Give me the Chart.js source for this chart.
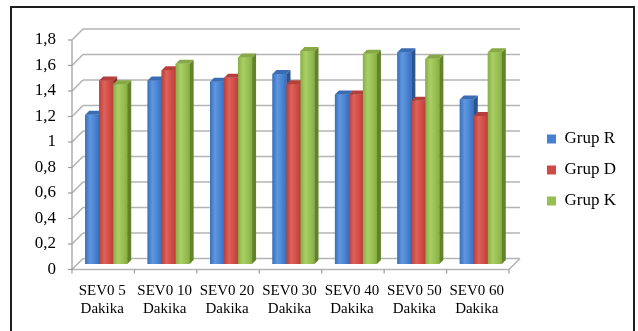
<!DOCTYPE html>
<html>
<head>
<meta charset="utf-8">
<script src="https://cdn.jsdelivr.net/npm/chart.js@4.4.1/dist/chart.umd.min.js"></script>
<style>
  html, body { margin: 0; padding: 0; background: #fff; }
  #wrap { width: 638px; height: 331px; }
  canvas { display: block; }
</style>
</head>
<body>
<div id="wrap"><canvas id="chart" width="638" height="331"></canvas></div>
<script>
// Category labels (two lines each)
const CATEGORIES = [
  ['SEV0 5', 'Dakika'],
  ['SEV0 10', 'Dakika'],
  ['SEV0 20', 'Dakika'],
  ['SEV0 30', 'Dakika'],
  ['SEV0 40', 'Dakika'],
  ['SEV0 50', 'Dakika'],
  ['SEV0 60', 'Dakika']
];

// Series names and values
const SERIES_NAMES = ['Grup R', 'Grup D', 'Grup K'];
const GRUP_R = [1.17, 1.44, 1.43, 1.49, 1.33, 1.66, 1.29];
const GRUP_D = [1.44, 1.52, 1.46, 1.41, 1.33, 1.28, 1.16];
const GRUP_K = [1.41, 1.57, 1.62, 1.67, 1.65, 1.61, 1.66];

// Value axis
const Y_MIN = 0;
const Y_MAX = 1.8;
const Y_STEP = 0.2;
const Y_TICK_LABELS = ['0', '0,2', '0,4', '0,6', '0,8', '1', '1,2', '1,4', '1,6', '1,8'];

// Colour sets for the 3D columns: front (base / highlight), side, top
const PALETTE = [
  { base: '#4780cf', light: '#5f98e0', dark: '#3a6eb9', side: '#2b548f', cap: '#3a6cb3' },
  { base: '#cf4a44', light: '#de625b', dark: '#bb3f3a', side: '#8a2b28', cap: '#b5403b' },
  { base: '#96be50', light: '#aacf66', dark: '#87ae45', side: '#63832b', cap: '#86a946' }
];

// Pseudo-3D geometry (pixels)
const FRONT = { dx: -3, dy: 5.5 };   // front edge of the floor / side wall
const BACK = { dx: 8, dy: -5.5 };    // back wall
const DEPTH = 4;                     // column depth
const PLOT_RIGHT = 512;
const LEGEND_BOX = { left: 533, top: 34.5, bottom: 305.5 };

const SERIF = "'Liberation Serif', 'DejaVu Serif', serif";
Chart.defaults.font.family = SERIF;
Chart.defaults.color = '#000';

function line(ctx, x1, y1, x2, y2) {
  ctx.beginPath();
  ctx.moveTo(x1, y1);
  ctx.lineTo(x2, y2);
  ctx.stroke();
}

const threeD = {
  id: 'threeD',
  afterLayout(chart) {
    const xs = chart.scales.x;
    xs.right = PLOT_RIGHT;
    xs.width = xs.right - xs.left;
    xs.configure();
    chart.chartArea.right = PLOT_RIGHT;
    chart.chartArea.width = PLOT_RIGHT - chart.chartArea.left;
    const lg = chart.legend;
    if (lg) {
      const w = lg.width;
      lg.left = LEGEND_BOX.left;
      lg.right = LEGEND_BOX.left + w;
      lg.top = LEGEND_BOX.top;
      lg.bottom = LEGEND_BOX.bottom;
      lg.height = LEGEND_BOX.bottom - LEGEND_BOX.top;
    }
  },
  beforeDraw(chart) {
    const ctx = chart.ctx;
    ctx.save();
    ctx.fillStyle = '#fff';
    ctx.fillRect(0, 0, chart.width, chart.height);
    ctx.strokeStyle = '#1e1e1e';
    ctx.lineWidth = 2;
    ctx.strokeRect(11, 7, 623, 340);
    ctx.restore();
  },
  beforeDatasetsDraw(chart) {
    const ctx = chart.ctx;
    const xs = chart.scales.x;
    const ys = chart.scales.y;
    const L = xs.left, R = xs.right;
    const y0 = ys.getPixelForValue(Y_MIN);
    ctx.save();
    ctx.lineCap = 'butt';
    // back wall gridlines + side wall diagonals
    ctx.strokeStyle = '#b4b4b4';
    ctx.lineWidth = 1.6;
    ys.ticks.forEach(t => {
      const py = ys.getPixelForValue(t.value);
      line(ctx, L + BACK.dx, py + BACK.dy, R + BACK.dx, py + BACK.dy);
      line(ctx, L + FRONT.dx, py + FRONT.dy, L + BACK.dx, py + BACK.dy);
    });
    // floor edges
    line(ctx, L + FRONT.dx, y0 + FRONT.dy, R + FRONT.dx, y0 + FRONT.dy);
    line(ctx, R + FRONT.dx, y0 + FRONT.dy, R + BACK.dx, y0 + BACK.dy);
    // front value axis and tick marks
    ctx.strokeStyle = '#9a9a9a';
    ctx.lineWidth = 1.2;
    const yTop = ys.getPixelForValue(Y_MAX);
    line(ctx, L + FRONT.dx, yTop + FRONT.dy, L + FRONT.dx, y0 + FRONT.dy);
    ys.ticks.forEach(t => {
      const py = ys.getPixelForValue(t.value) + FRONT.dy;
      line(ctx, L + FRONT.dx - 4, py, L + FRONT.dx, py);
    });
    // category tick marks on the floor edge
    const n = CATEGORIES.length;
    for (let i = 0; i <= n; i++) {
      const px = L + (R - L) * i / n + FRONT.dx;
      line(ctx, px, y0 + FRONT.dy, px, y0 + FRONT.dy + 4);
    }
    ctx.restore();
  },
  afterDatasetsDraw(chart) {
    const ctx = chart.ctx;
    const metas = chart.data.datasets.map((d, i) => chart.getDatasetMeta(i));
    const n = CATEGORIES.length;
    ctx.save();
    for (let j = 0; j < n; j++) {
      metas.forEach((meta, i) => {
        const el = meta.data[j];
        if (!el) return;
        const { x, y, base, width } = el.getProps(['x', 'y', 'base', 'width'], true);
        const c = PALETTE[i];
        const l = x - width / 2, r = x + width / 2;
        // front face
        const g = ctx.createLinearGradient(l, 0, r, 0);
        g.addColorStop(0, c.dark);
        g.addColorStop(0.35, c.light);
        g.addColorStop(0.75, c.base);
        g.addColorStop(1, c.dark);
        ctx.fillStyle = g;
        ctx.fillRect(l, y, r - l, base - y);
        // side face
        ctx.fillStyle = c.side;
        ctx.beginPath();
        ctx.moveTo(r, y);
        ctx.lineTo(r + DEPTH, y - DEPTH);
        ctx.lineTo(r + DEPTH, base - DEPTH);
        ctx.lineTo(r, base);
        ctx.closePath();
        ctx.fill();
        // top face
        ctx.fillStyle = c.cap;
        ctx.beginPath();
        ctx.moveTo(l, y);
        ctx.lineTo(l + DEPTH, y - DEPTH);
        ctx.lineTo(r + DEPTH, y - DEPTH);
        ctx.lineTo(r, y);
        ctx.closePath();
        ctx.fill();
      });
    }
    ctx.restore();
  }
};

const SERIES = [GRUP_R, GRUP_D, GRUP_K];

new Chart(document.getElementById('chart'), {
  type: 'bar',
  data: {
    labels: CATEGORIES,
    datasets: SERIES.map((vals, i) => ({
      label: SERIES_NAMES[i],
      data: vals,
      backgroundColor: PALETTE[i].base,
      borderWidth: 0,
      barPercentage: 1,
      categoryPercentage: 0.673
    }))
  },
  options: {
    responsive: false,
    animation: false,
    devicePixelRatio: 1,
    layout: { padding: { top: 34.5, bottom: 0, left: 10, right: 14 } },
    plugins: {
      legend: {
        position: 'right',
        labels: {
          boxWidth: 9,
          boxHeight: 9,
          padding: 14,
          color: '#000',
          font: { size: 17, family: SERIF }
        }
      },
      tooltip: { enabled: false }
    },
    scales: {
      x: {
        grid: { display: false, drawTicks: false },
        border: { display: false },
        ticks: {
          autoSkip: false,
          maxRotation: 0,
          padding: 18.25,
          labelOffset: -4,
          color: '#000',
          font: { size: 15, family: SERIF, lineHeight: 1.17 }
        },
        afterFit(scale) { scale.height = 67; }
      },
      y: {
        min: Y_MIN,
        max: Y_MAX,
        grid: { display: false, drawTicks: false },
        border: { display: false },
        ticks: {
          stepSize: Y_STEP,
          padding: 19,
          labelOffset: 5.5,
          color: '#000',
          font: { size: 17, family: SERIF },
          callback: (value, index) => Y_TICK_LABELS[index] !== undefined ? Y_TICK_LABELS[index] : String(value).replace('.', ',')
        },
        afterFit(scale) { scale.width = 65; }
      }
    }
  },
  plugins: [threeD]
});
</script>
</body>
</html>
